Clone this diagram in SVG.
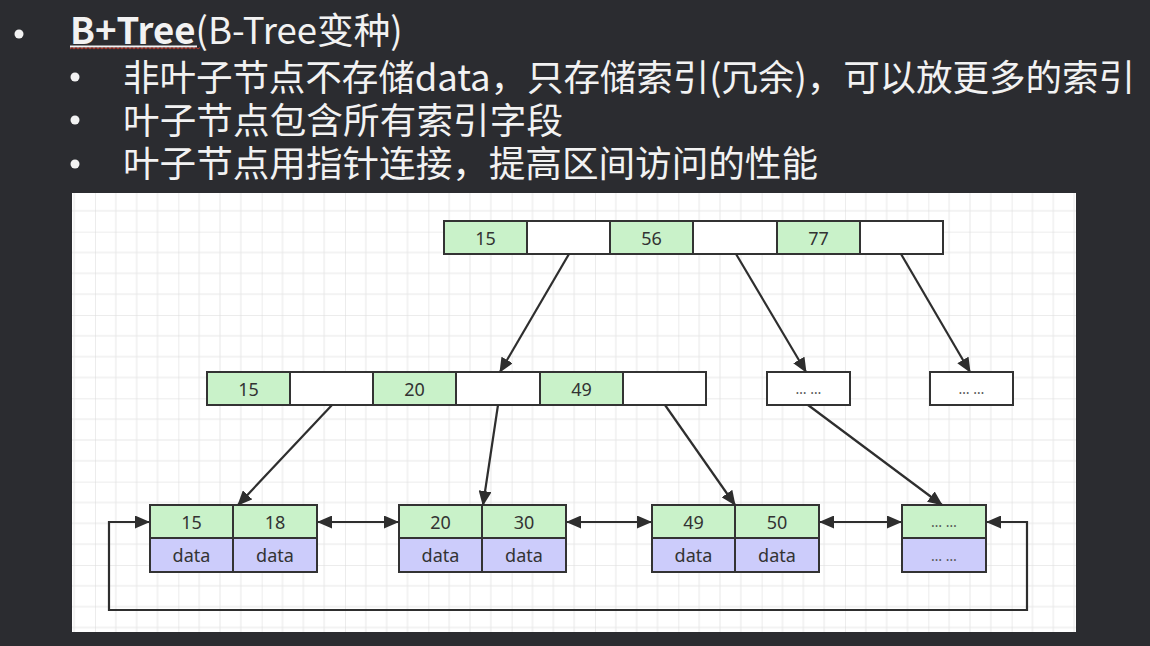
<svg xmlns="http://www.w3.org/2000/svg" width="1150" height="646" viewBox="0 0 1150 646">
<style>
.hdr{font-family:"Noto Sans CJK SC","Noto Sans",sans-serif;font-size:36.6px;fill:#f2f2f2}
.g{fill:#c9f2c9;stroke:#333;stroke-width:2}
.w{fill:#ffffff;stroke:#333;stroke-width:2}
.p{fill:#ccccfb;stroke:#333;stroke-width:2}
.t{font-family:"Noto Sans","Noto Sans CJK SC",sans-serif;font-size:18px;fill:#333;text-anchor:middle}
.e{font-family:"Noto Sans","Noto Sans CJK SC",sans-serif;font-size:14px;fill:#555;text-anchor:middle}
.c{fill:none;stroke:#2e2e2e;stroke-width:2.2}
</style>
<defs>
<pattern id="grid" patternUnits="userSpaceOnUse" x="11.67" y="-18.33" width="83.33" height="83.33">
<path d="M20.83,0V83.33M41.67,0V83.33M62.5,0V83.33M0,20.83H83.33M0,41.67H83.33M0,62.5H83.33" stroke="#e8e8e8" stroke-width="1" fill="none"/>
<path d="M0,0V83.33M0,0H83.33" stroke="#dadada" stroke-width="1" fill="none"/>
</pattern>
<marker id="ah" markerUnits="userSpaceOnUse" markerWidth="15" markerHeight="13" refX="14" refY="6.5" orient="auto-start-reverse">
<path d="M0,0 L15,6.5 L0,13 z" fill="#2e2e2e"/>
</marker>
</defs>
<rect x="0" y="0" width="1150" height="646" fill="#2b2c30"/>
<g id="header">
<circle cx="19" cy="34" r="4.5" fill="#f2f2f2"/>
<circle cx="75" cy="77" r="4.5" fill="#f2f2f2"/>
<circle cx="75" cy="120" r="4.5" fill="#f2f2f2"/>
<circle cx="75" cy="164" r="4.5" fill="#f2f2f2"/>
<text class="hdr" x="70" y="44" font-size="37.2px"><tspan font-weight="bold">B+Tree</tspan>(B-Tree变种)</text>
<line x1="70" y1="46.5" x2="197" y2="46.5" stroke="#f2f2f2" stroke-width="2"/>
<path d="M70,49 l2,-1.5 l2,1.5 l2,-1.5 l2,1.5 l2,-1.5 l2,1.5 l2,-1.5 l2,1.5 l2,-1.5 l2,1.5 l2,-1.5 l2,1.5 l2,-1.5 l2,1.5 l2,-1.5 l2,1.5 l2,-1.5 l2,1.5 l2,-1.5 l2,1.5 l2,-1.5 l2,1.5 l2,-1.5 l2,1.5 l2,-1.5 l2,1.5 l2,-1.5 l2,1.5 l2,-1.5 l2,1.5 l2,-1.5 l2,1.5 l2,-1.5 l2,1.5 l2,-1.5 l2,1.5 l2,-1.5 l2,1.5 l2,-1.5 l2,1.5 l2,-1.5 l2,1.5 l2,-1.5 l2,1.5 l2,-1.5 l2,1.5 l2,-1.5 l2,1.5 l2,-1.5 l2,1.5 l2,-1.5 l2,1.5 l2,-1.5 l2,1.5 l2,-1.5 l2,1.5 l2,-1.5 l2,1.5 l2,-1.5 l2,1.5 l2,-1.5 l2,1.5 l2,-1.5 l2,1.5 l2,-1.5" fill="none" stroke="#c0392b" stroke-width="1"/>
<text class="hdr" x="123" y="91" textLength="1012" lengthAdjust="spacing">非叶子节点不存储data，只存储索引(冗余)，可以放更多的索引</text>
<text class="hdr" x="123" y="134" textLength="440" lengthAdjust="spacing">叶子节点包含所有索引字段</text>
<text class="hdr" x="123" y="177" textLength="695" lengthAdjust="spacing">叶子节点用指针连接，提高区间访问的性能</text>
</g>
<rect x="72" y="193" width="1004" height="439" fill="#ffffff"/>
<rect x="72" y="193" width="1004" height="439" fill="url(#grid)"/>
<g id="root">
<rect class="g" x="444" y="221" width="83" height="33"/>
<rect class="w" x="527" y="221" width="83" height="33"/>
<rect class="g" x="610" y="221" width="83" height="33"/>
<rect class="w" x="693" y="221" width="84" height="33"/>
<rect class="g" x="777" y="221" width="83" height="33"/>
<rect class="w" x="860" y="221" width="83" height="33"/>
<text class="t" x="485.5" y="244.5">15</text>
<text class="t" x="651.5" y="244.5">56</text>
<text class="t" x="818.5" y="244.5">77</text>
</g>
<g id="mid">
<rect class="g" x="207" y="372" width="83" height="33"/>
<rect class="w" x="290" y="372" width="83" height="33"/>
<rect class="g" x="373" y="372" width="83" height="33"/>
<rect class="w" x="456" y="372" width="84" height="33"/>
<rect class="g" x="540" y="372" width="83" height="33"/>
<rect class="w" x="623" y="372" width="83" height="33"/>
<text class="t" x="248.5" y="395.5">15</text>
<text class="t" x="414.5" y="395.5">20</text>
<text class="t" x="581.5" y="395.5">49</text>
</g>
<g id="mid2">
<rect class="w" x="767" y="372" width="83" height="33"/>
<text class="e" x="808.5" y="394">… …</text>
</g>
<g id="mid3">
<rect class="w" x="930" y="372" width="83" height="33"/>
<text class="e" x="971.5" y="394">… …</text>
</g>
<g id="leaf1">
<rect class="g" x="150" y="505" width="83" height="33"/>
<rect class="g" x="233" y="505" width="84" height="33"/>
<rect class="p" x="150" y="538" width="83" height="34"/>
<rect class="p" x="233" y="538" width="84" height="34"/>
<text class="t" x="191.5" y="528.5">15</text>
<text class="t" x="275" y="528.5">18</text>
<text class="t" x="191.5" y="561.5">data</text>
<text class="t" x="275" y="561.5">data</text>
</g>
<g id="leaf2">
<rect class="g" x="399" y="505" width="83" height="33"/>
<rect class="g" x="482" y="505" width="84" height="33"/>
<rect class="p" x="399" y="538" width="83" height="34"/>
<rect class="p" x="482" y="538" width="84" height="34"/>
<text class="t" x="440.5" y="528.5">20</text>
<text class="t" x="524" y="528.5">30</text>
<text class="t" x="440.5" y="561.5">data</text>
<text class="t" x="524" y="561.5">data</text>
</g>
<g id="leaf3">
<rect class="g" x="652" y="505" width="83" height="33"/>
<rect class="g" x="735" y="505" width="84" height="33"/>
<rect class="p" x="652" y="538" width="83" height="34"/>
<rect class="p" x="735" y="538" width="84" height="34"/>
<text class="t" x="693.5" y="528.5">49</text>
<text class="t" x="777" y="528.5">50</text>
<text class="t" x="693.5" y="561.5">data</text>
<text class="t" x="777" y="561.5">data</text>
</g>
<g id="leaf4">
<rect class="g" x="902" y="505" width="84" height="33"/>
<rect class="p" x="902" y="538" width="84" height="34"/>
<text class="e" x="944" y="527">… …</text>
<text class="e" x="944" y="561">… …</text>
</g>
<g id="connectors">
<line class="c" x1="569" y1="254" x2="500" y2="372" marker-end="url(#ah)"/>
<line class="c" x1="736" y1="254" x2="806" y2="372" marker-end="url(#ah)"/>
<line class="c" x1="901" y1="254" x2="970" y2="372" marker-end="url(#ah)"/>
<line class="c" x1="332" y1="405" x2="238" y2="505" marker-end="url(#ah)"/>
<line class="c" x1="498" y1="405" x2="483" y2="505" marker-end="url(#ah)"/>
<line class="c" x1="665" y1="405" x2="735" y2="505" marker-end="url(#ah)"/>
<line class="c" x1="808" y1="405" x2="942" y2="505" marker-end="url(#ah)"/>
<line class="c" x1="318" y1="522" x2="398" y2="522" marker-start="url(#ah)" marker-end="url(#ah)"/>
<line class="c" x1="567" y1="522" x2="651" y2="522" marker-start="url(#ah)" marker-end="url(#ah)"/>
<line class="c" x1="820" y1="522" x2="901" y2="522" marker-start="url(#ah)" marker-end="url(#ah)"/>
<path class="c" d="M149,522 H109 V610 H1027 V522 H987" marker-start="url(#ah)" marker-end="url(#ah)"/>
</g>
</svg>
